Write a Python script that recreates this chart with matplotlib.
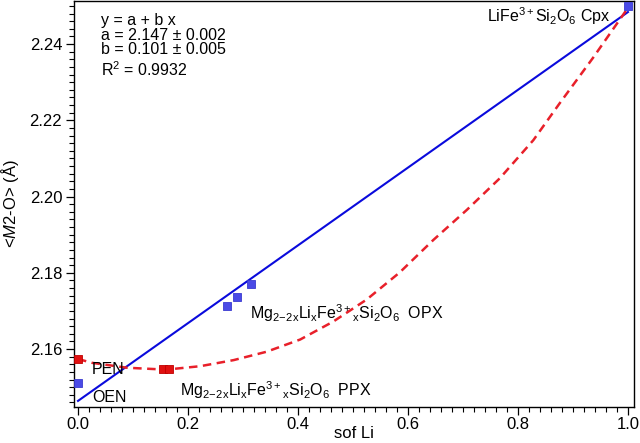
import matplotlib
matplotlib.use("Agg")
import matplotlib.pyplot as plt
from matplotlib.ticker import MultipleLocator, FormatStrFormatter

plt.rcParams['font.family'] = ['Liberation Sans', 'DejaVu Sans']
plt.rcParams['mathtext.fontset'] = 'custom'
plt.rcParams['mathtext.rm'] = 'Liberation Sans'
plt.rcParams['mathtext.it'] = 'Liberation Sans:italic'
plt.rcParams['mathtext.bf'] = 'Liberation Sans:bold'

# Data
blue_x = [0.0, 0.271, 0.290, 0.315, 1.0]
blue_y = [2.1511, 2.1713, 2.1737, 2.1770, 2.2500]
red_x = [0.0, 0.155, 0.165]
red_y = [2.1574, 2.1547, 2.1548]

fit_a = 2.1464
fit_b = 0.1020
fit_x = [0.0, 1.0]

curve_x = [0.0, 0.025, 0.089, 0.16, 0.222, 0.283, 0.343, 0.404, 0.464, 0.525,
           0.585, 0.646, 0.707, 0.767, 0.828, 0.876, 0.936, 1.0]
curve_y = [2.1574, 2.1564, 2.1551, 2.1546, 2.1555, 2.1571, 2.1593, 2.1625, 2.1672,
           2.1730, 2.1801, 2.1886, 2.1965, 2.2048, 2.2148, 2.2245, 2.2363, 2.2495]

xticks = [0.0, 0.2, 0.4, 0.6, 0.8, 1.0]
yticks = [2.16, 2.18, 2.20, 2.22, 2.24]

fig = plt.figure(figsize=(6.4, 4.43), dpi=100)
ax = fig.add_axes([74/640, 1 - 407/443, (634-74)/640, (407-1)/443])

fit_y = [fit_a + fit_b * x for x in fit_x]
ax.plot(fit_x, fit_y, color='#0a0adc', lw=1.5, zorder=2)
ax.plot(curve_x, curve_y, color='#e8202a', lw=1.8, dashes=(3.4, 2.2), zorder=2)

ax.plot(blue_x, blue_y, ls='none', marker='s', ms=6.2, mfc='#4a4ae6',
        mec='#3a3ad0', mew=0.6, zorder=3)
ax.plot(red_x, red_y, ls='none', marker='s', ms=6.2, mfc='#e01010',
        mec='#c00000', mew=0.6, zorder=3)

ax.set_xlim(-0.0073, 1.011)
ax.set_ylim(2.1448, 2.2513)
ax.set_xticks(xticks)
ax.set_yticks(yticks)
ax.xaxis.set_major_formatter(FormatStrFormatter('%.1f'))
ax.yaxis.set_major_formatter(FormatStrFormatter('%.2f'))
ax.xaxis.set_minor_locator(MultipleLocator(0.02))
ax.yaxis.set_minor_locator(MultipleLocator(0.002))
ax.tick_params(which='major', direction='out', length=6, width=0.9,
               labelsize=12, top=False, right=False)
ax.tick_params(axis='x', which='major', pad=1.5)
ax.tick_params(axis='y', which='major', pad=2.5)
ax.tick_params(which='minor', direction='out', length=3.5, width=0.8,
               top=False, right=False)
for s in ax.spines.values():
    s.set_linewidth(1.0)

ax.set_xlabel('sof Li', fontsize=12, labelpad=-4.5)
ax.set_ylabel(r'<$\mathit{M2}$-O> (Å)', fontsize=12, labelpad=6)

fs = 11.5
tr = ax.transAxes
def px(x, y):
    return ((x - 74) / 560, (407 - y) / 406)

ax.text(*px(101, 20), 'y = a + b x', transform=tr, fontsize=fs, va='center')
ax.text(*px(101, 35), 'a = 2.147 ± 0.002', transform=tr, fontsize=fs, va='center')
ax.text(*px(101, 50), 'b = 0.101 ± 0.005', transform=tr, fontsize=fs, va='center')
ax.text(*px(101, 70), r'R$^2$ = 0.9932', transform=tr, fontsize=fs, va='center')

ax.text(*px(610, 16), r'LiFe$^{3+}$Si$_2$O$_6$ Cpx', transform=tr, fontsize=fs,
        va='center', ha='right')
ax.text(*px(92, 369), 'PEN', transform=tr, fontsize=fs, va='center')
ax.text(*px(92, 398), 'OEN', transform=tr, fontsize=fs, va='center')
ax.text(*px(250, 313), r'Mg$_{\mathrm{2\!-\!2x}}$Li$_\mathrm{x}$Fe$^{3+}$$_\mathrm{x}$Si$_2$O$_6$  OPX',
        transform=tr, fontsize=fs, va='center')
ax.text(*px(180, 390), r'Mg$_{\mathrm{2\!-\!2x}}$Li$_\mathrm{x}$Fe$^{3+}$$_\mathrm{x}$Si$_2$O$_6$  PPX',
        transform=tr, fontsize=fs, va='center')

fig.savefig('out.png', dpi=100)
